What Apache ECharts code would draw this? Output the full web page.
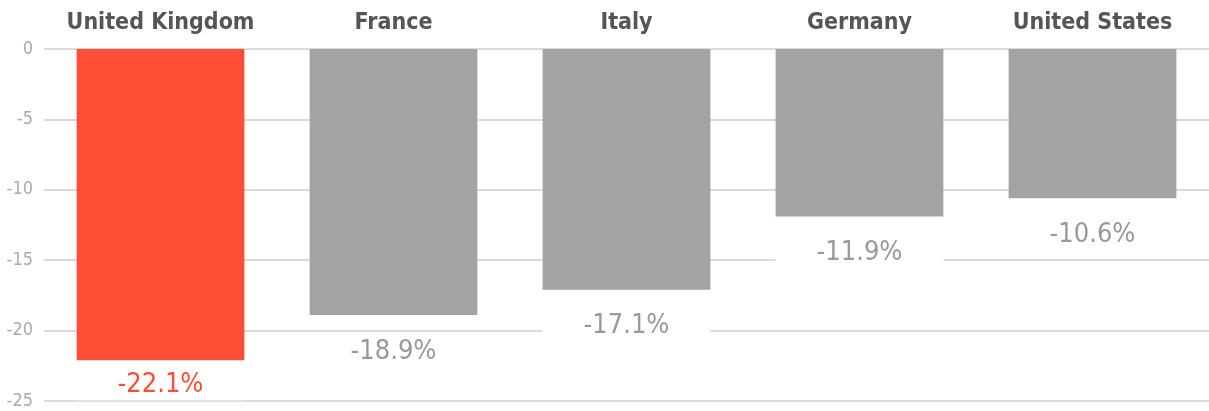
<!DOCTYPE html>
<html>
<head>
<meta charset="utf-8">
<script src="https://cdn.jsdelivr.net/npm/echarts@6/dist/echarts.min.js"></script>
<style>html,body{margin:0;padding:0;background:#fff}#c{width:1209px;height:411px}</style>
</head>
<body>
<div id="c"></div>
<script>
var categories = ['United Kingdom', 'France', 'Italy', 'Germany', 'United States'];
var values = [-22.1, -18.9, -17.1, -11.9, -10.6];
var highlightIndex = 0;
var yTicks = [0, -5, -10, -15, -20, -25];

var FONT = '"DejaVu Sans Condensed", "Liberation Sans Narrow", sans-serif';
var RED = '#FF4D36', GREY = '#A3A3A3';

var chart = echarts.init(document.getElementById('c'), null, {renderer: 'canvas'});
chart.setOption({
  animation: false,
  backgroundColor: '#fff',
  grid: {left: 44, right: 0, top: 49, bottom: 10, containLabel: false},
  xAxis: {
    type: 'category',
    position: 'top',
    data: categories,
    axisLine: {show: false},
    axisTick: {show: false},
    axisLabel: {
      interval: 0,
      margin: 14,
      color: '#555',
      fontFamily: FONT,
      fontWeight: 'bold',
      fontSize: 23
    }
  },
  yAxis: {
    type: 'value',
    min: -25, max: 0, interval: 5,
    axisLine: {show: false},
    axisTick: {show: false},
    axisLabel: {
      margin: 11,
      color: '#AAAAAA',
      fontFamily: FONT,
      fontSize: 18,
      formatter: function (v) { return yTicks.indexOf(v) >= 0 ? String(v) : ''; }
    },
    splitLine: {lineStyle: {color: '#CFCFCF', width: 1.5}}
  },
  series: [{
    type: 'bar',
    barWidth: '72%',
    data: values.map(function (v, i) {
      var hi = i === highlightIndex;
      return {
        value: v,
        itemStyle: {color: hi ? RED : GREY},
        label: {color: hi ? RED : '#999999', distance: hi ? 9 : 21}
      };
    }),
    label: {
      show: true,
      position: 'bottom',
      fontFamily: FONT,
      fontSize: 27,
      width: 168,
      align: 'center',
      backgroundColor: '#fff',
      padding: [2, 0],
      formatter: function (p) { return p.value.toFixed(1) + '%'; }
    }
  }]
});
</script>
</body>
</html>
